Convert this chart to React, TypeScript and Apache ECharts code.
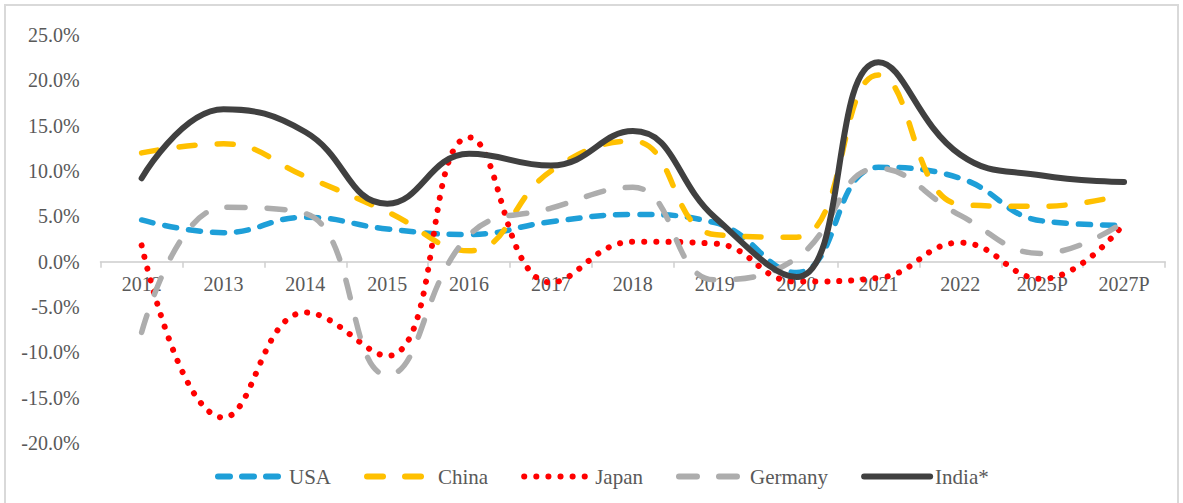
import { useEffect, useRef } from "react";
import * as echarts from "echarts";

// Annual growth rates (%) by country
const years = ["2012", "2013", "2014", "2015", "2016", "2017", "2018", "2019", "2020", "2021", "2022", "2025P", "2027P"];
const usa = [4.6, 3.2, 4.9, 3.6, 3.0, 4.4, 5.2, 4.3, -1.2, 10.4, 9.2, 4.5, 4.0];
const china = [12.0, 13.0, 9.4, 5.5, 1.2, 10.0, 13.3, 3.0, 2.7, 20.6, 6.3, 6.1, 7.4];
const japan = [1.8, -17.2, -5.6, -10.4, 13.7, -2.3, 2.2, 2.0, -2.2, -1.8, 2.1, -1.9, 4.2];
const germany = [-7.8, 6.0, 5.3, -12.5, 2.9, 5.9, 8.2, -2.0, 0.4, 10.3, 5.1, 0.9, 4.4];
const india = [9.2, 16.8, 14.3, 6.4, 11.9, 10.6, 14.4, 4.9, -1.7, 22.0, 11.8, 9.5, 8.8];

const Y_MIN = -20;
const Y_MAX = 25;

const FONT = "'Liberation Serif', 'Times New Roman', serif";
const TEXT = "#595959";
const SMOOTH = 0.45;

const GRID_TOP = 35;
const GRID_BOTTOM = 60;
const HEIGHT = 503;

export default function App() {
  const ref = useRef<HTMLDivElement>(null);

  useEffect(() => {
    document.body.style.margin = "0";
    const chart = echarts.init(ref.current!, null, { renderer: "svg" });

    // Category labels sit just under the zero line rather than at the grid bottom.
    const plotH = HEIGHT - GRID_TOP - GRID_BOTTOM;
    const zeroToBottom = (plotH * (0 - Y_MIN)) / (Y_MAX - Y_MIN);

    const line = (name: string, data: number[], color: string, width: number, dash: number[] | "solid") => ({
      name,
      type: "line",
      data,
      smooth: SMOOTH,
      symbol: "none",
      showSymbol: false,
      lineStyle: { color, width, type: dash, cap: "round", join: "round" },
      itemStyle: { color },
    });

    chart.setOption({
      animation: false,
      backgroundColor: "#ffffff",
      grid: { left: 100.7, right: 18, top: GRID_TOP, bottom: GRID_BOTTOM },
      graphic: [
        {
          type: "rect",
          silent: true,
          shape: { x: 5, y: 5, width: 1173, height: 520 },
          style: { fill: "none", stroke: "#d9d9d9", lineWidth: 2 },
        },
      ],
      legend: {
        left: 210,
        top: 461,
        itemWidth: 66,
        itemHeight: 14,
        itemGap: 33,
        itemStyle: { opacity: 0, color: "rgba(0,0,0,0)", borderWidth: 0 },
        lineStyle: { width: 6 },
        textStyle: { fontFamily: FONT, fontSize: 21, color: TEXT },
        data: ["USA", "China", "Japan", "Germany", "India*"],
      },
      xAxis: {
        type: "category",
        data: years,
        boundaryGap: true,
        axisLine: { onZero: true, lineStyle: { color: "#d9d9d9", width: 2 } },
        axisTick: { show: true, length: 6, lineStyle: { color: "#cfcfcf", width: 1.5 } },
        axisLabel: {
          fontFamily: FONT,
          fontSize: 20,
          color: TEXT,
          margin: 12 - zeroToBottom,
          interval: 0,
        },
        splitLine: { show: false },
      },
      yAxis: {
        type: "value",
        min: Y_MIN,
        max: Y_MAX,
        interval: 5,
        axisLine: { show: false },
        axisTick: { show: false },
        splitLine: { show: false },
        axisLabel: {
          fontFamily: FONT,
          fontSize: 20,
          color: TEXT,
          margin: 21,
          formatter: (v: number) => `${v.toFixed(1)}%`,
        },
      },
      series: [
        line("USA", usa, "#1e9fd8", 5.5, [12, 12]),
        line("China", china, "#ffc000", 5.5, [16, 22]),
        line("Japan", japan, "#ff0000", 6, [0.1, 12]),
        line("Germany", germany, "#adadad", 5.5, [18, 22]),
        line("India*", india, "#404040", 6, "solid"),
      ],
    });

    return () => chart.dispose();
  }, []);

  return <div ref={ref} style={{ width: 1183, height: 503 }} />;
}
